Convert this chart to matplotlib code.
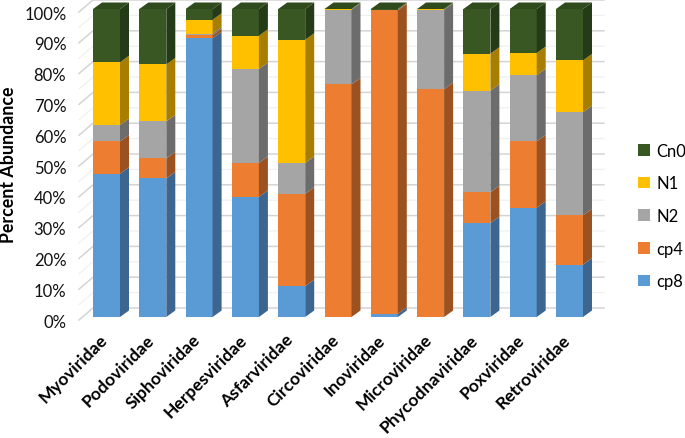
import matplotlib
matplotlib.use('Agg')
import matplotlib.pyplot as plt
from matplotlib.patches import Polygon, Patch
from matplotlib.transforms import ScaledTranslation
import numpy as np

plt.rcParams['font.family'] = ['Lato', 'DejaVu Sans']

families = ['Myoviridae', 'Podoviridae', 'Siphoviridae', 'Herpesviridae', 'Asfarviridae', 'Circoviridae',
            'Inoviridae', 'Microviridae', 'Phycodnaviridae', 'Poxviridae', 'Retroviridae']
cp8 = [46.5, 45, 90.5, 39, 10, 0, 1, 0, 30.5, 35.5, 17]
cp4 = [10.5, 6.5, 1.0, 11, 30, 75.5, 98.6, 74, 10, 21.5, 16]
n2 = [5.3, 12, 0.5, 30.5, 10, 24.3, 0.1, 25.8, 33, 21.5, 33.5]
n1 = [20.4, 18.5, 4.5, 10.8, 40, 0.1, 0.1, 0.1, 12, 7.2, 16.8]
cn0 = [17.3, 18, 3.5, 8.7, 10, 0.1, 0.2, 0.1, 14.5, 14.3, 16.7]
y_ticks = [0, 10, 20, 30, 40, 50, 60, 70, 80, 90, 100]

series = [('cp8', cp8, '#5b9bd5', '#3c6590'),
          ('cp4', cp4, '#ed7d31', '#9c5220'),
          ('N2', n2, '#a5a5a5', '#6c6c6c'),
          ('N1', n1, '#ffc000', '#a87e00'),
          ('Cn0', cn0, '#385723', '#253a17')]
cap_color = '#2f4a1d'

W, H = 685, 439
fig = plt.figure(figsize=(W / 100, H / 100), dpi=100)

# axes is the front plane of the bars: 0% at y=318px, 100% at y=10px
first_c, step = 106.5, 46.3
left_px = first_c - step / 2
right_px = first_c + step * 10.5
ax = fig.add_axes([left_px / W, 1 - 318 / H, (right_px - left_px) / W, 308 / H])
ax.set_xlim(-0.5, 10.5)
ax.set_ylim(0, 100)
for s in ax.spines.values():
    s.set_visible(False)

px_x = 1 / step       # one pixel in x data units
px_y = 100 / 308      # one pixel in y data units


def wall_pt(xp, yp):
    # pixel position to data coordinates, only for the walls
    return ((xp - first_c) * px_x, (318 - yp) * px_y)


# back wall and left wall lines
for t in np.arange(0, 100.1, 5):
    major = t % 10 == 0
    col = '#d4d4d4' if major else '#f0f0f0'
    y_back = 309 - t * 3.08
    y_front = 321 - t * 3.08
    a = wall_pt(79, y_front)
    b = wall_pt(93, y_back)
    c = wall_pt(604, y_back)
    ax.plot([a[0], b[0], c[0]], [a[1], b[1], c[1]], color=col, lw=1.1 if major else 0.9, clip_on=False, zorder=1)

dx = 9 * px_x
dy = 6.5 * px_y
w = 27 * px_x
x = np.arange(len(families))
bottom = np.zeros(len(families))
for name, vals, col, side in series:
    vals = np.array(vals, dtype=float)
    ax.bar(x, vals, width=w, bottom=bottom, color=col, label=name, zorder=3)
    for xi, b0, v in zip(x, bottom, vals):
        r = xi + w / 2
        ax.add_patch(Polygon([(r, b0), (r + dx, b0 + dy), (r + dx, b0 + v + dy), (r, b0 + v)],
                             closed=True, facecolor=side, edgecolor='none', zorder=3, clip_on=False))
    bottom = bottom + vals

# top caps
for xi in x:
    l, r = xi - w / 2, xi + w / 2
    ax.add_patch(Polygon([(l, 100), (r, 100), (r + dx, 100 + dy), (l + dx, 100 + dy)],
                         closed=True, facecolor=cap_color, edgecolor='none', zorder=4, clip_on=False))

ax.set_xticks(x)
ax.set_xticklabels(families, rotation=45, ha='right', rotation_mode='anchor', fontsize=12.6, fontweight='bold', color='#000000')
ax.set_yticks(y_ticks)
ax.set_yticklabels([f'{t}%' for t in y_ticks], fontsize=12, color='#111111')
ax.tick_params(axis='both', length=0)
ax.tick_params(axis='y', pad=0)
ax.tick_params(axis='x', pad=10)

# y labels sit with the front edge of the wall
shift = ScaledTranslation(-17 / 100, -3 / 100, fig.dpi_scale_trans)
for lab in ax.get_yticklabels():
    lab.set_transform(lab.get_transform() + shift)
shift_x = ScaledTranslation(-7 / 100, 0, fig.dpi_scale_trans)
for lab in ax.get_xticklabels():
    lab.set_transform(lab.get_transform() + shift_x)

fig.text(9 / W, 1 - 165 / H, 'Percent Abundance', rotation=90, ha='center', va='center',
         fontsize=12.8, fontweight='bold', color='#000000')

handles = [Patch(facecolor=c, label=n) for n, v, c, s in series[::-1]]
fig.legend(handles=handles, loc='center left', bbox_to_anchor=(623 / W, 1 - 217 / H), frameon=False,
           fontsize=12, handlelength=0.7, handleheight=0.7, handletextpad=0.4, labelspacing=1.0)

fig.savefig('out.png', dpi=100)
